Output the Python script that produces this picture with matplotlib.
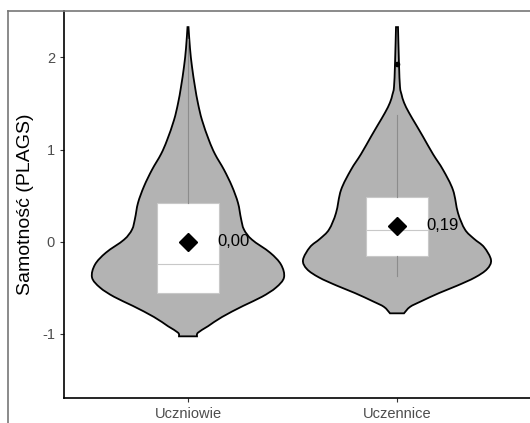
import matplotlib
matplotlib.use("Agg")
import matplotlib.pyplot as plt
from matplotlib.lines import Line2D
from matplotlib.path import Path
from matplotlib.patches import PathPatch
import numpy as np

plt.rcParams["font.family"] = ["Liberation Sans", "DejaVu Sans"]

# categories and summary values
groups = ["Uczniowie", "Uczennice"]
mean_vals = [0.00, 0.17]
mean_labels = ["0,00", "0,19"]

# violin outlines: value and half-width (in pixels of the original, 209 px per category)
left_y = [2.33, 2.10, 1.90, 1.68, 1.50, 1.32, 1.10, 0.95, 0.78, 0.60, 0.42, 0.25,
          0.13, 0.02, -0.12, -0.25, -0.39, -0.50, -0.60, -0.70, -0.82, -0.92, -0.99, -1.03]
left_w = [0.5, 2, 4, 7, 10, 14, 21, 27, 36, 44, 50, 53,
          56, 64, 82, 93, 96, 88, 74, 55, 34, 20, 10, 9]
right_y = [2.33, 1.93, 1.68, 1.60, 1.51, 1.40, 1.27, 1.14, 0.95, 0.78, 0.56, 0.31,
           0.13, 0.03, -0.06, -0.20, -0.30, -0.39, -0.48, -0.56, -0.65, -0.71, -0.78]
right_w = [1, 2, 3, 4.5, 7, 12, 19, 26, 36, 46, 56, 61,
           68, 77, 87, 94, 90, 78, 60, 42, 24, 13, 7]

# boxplot stats
q1 = [-0.56, -0.16]
med = [-0.24, 0.13]
q3 = [0.42, 0.48]
wlo = [-0.56, -0.37]
whi = [2.20, 1.38]
outliers = [[], [1.93]]

px_per_unit = 209.0


def smooth_path(xs, ys):
    # Catmull-Rom through the points, written as cubic Bezier segments
    pts = np.column_stack([xs, ys])
    verts = [pts[0]]
    codes = [Path.MOVETO]
    n = len(pts)
    for k in range(n - 1):
        p0 = pts[max(k - 1, 0)]
        p1 = pts[k]
        p2 = pts[k + 1]
        p3 = pts[min(k + 2, n - 1)]
        c1 = p1 + (p2 - p0) / 6.0
        c2 = p2 - (p3 - p1) / 6.0
        verts += [c1, c2, p2]
        codes += [Path.CURVE4] * 3
    return verts, codes


fig = plt.figure(figsize=(5.3, 4.23), dpi=100)
ax = fig.add_axes([64 / 530, 25 / 423, 1 - 64 / 530, (398 - 11) / 423])

profiles = [(left_y, left_w), (right_y, right_w)]
for i, (ys, ws) in enumerate(profiles):
    pos = i + 1
    hw = np.array(ws) / px_per_unit
    ys = np.array(ys)
    # right side top->bottom, then left side bottom->top
    v1, c1 = smooth_path(pos + hw, ys)
    v2, c2 = smooth_path((pos - hw)[::-1], ys[::-1])
    verts = v1 + v2 + [v1[0]]
    codes = c1 + [Path.LINETO] + c2[1:] + [Path.CLOSEPOLY]
    ax.add_patch(PathPatch(Path(verts, codes), facecolor="#b3b3b3",
                           edgecolor="black", linewidth=1.3, zorder=1))

stats = []
for i in range(len(groups)):
    stats.append(dict(med=med[i], q1=q1[i], q3=q3[i], whislo=wlo[i], whishi=whi[i],
                      fliers=outliers[i], label=groups[i]))
ax.bxp(stats, positions=[1, 2], widths=0.30, patch_artist=True, showcaps=False,
       boxprops=dict(facecolor="white", edgecolor="#c8c8c8", linewidth=0.8),
       medianprops=dict(color="#c8c8c8", linewidth=0.8),
       whiskerprops=dict(color="#8c8c8c", linewidth=0.8),
       flierprops=dict(marker="o", markersize=3, markerfacecolor="black",
                       markeredgecolor="black"),
       zorder=2)

ax.plot([1, 2], mean_vals, linestyle="none", marker="D", markersize=9,
        color="black", zorder=3)
for i, lab in enumerate(mean_labels):
    ax.text(i + 1 + 0.14, mean_vals[i], lab, fontsize=12, va="center", ha="left",
            color="black", zorder=4)

ax.set_xlim(1 - 124 / px_per_unit, 2 + 133 / px_per_unit)
ax.set_ylim(-1.70, 2.505)
ax.set_xticks([1, 2])
ax.set_xticklabels(groups)
ax.set_yticks([-1, 0, 1, 2])
ax.set_yticklabels(["-1", "0", "1", "2"])
ax.set_ylabel("Samotność (PLAGS)", fontsize=14, color="black", labelpad=6)
ax.tick_params(axis="both", labelsize=10.5, colors="#333333", labelcolor="#4d4d4d",
               length=3, width=0.8)
for s in ["top", "right"]:
    ax.spines[s].set_visible(False)
for s in ["left", "bottom"]:
    ax.spines[s].set_linewidth(1.2)
    ax.spines[s].set_color("black")

# outer frame (top and left edges)
fig.add_artist(Line2D([8 / 530, 1], [1 - 11 / 423, 1 - 11 / 423], color="#777777", lw=1.2))
fig.add_artist(Line2D([8 / 530, 8 / 530], [0, 1 - 11 / 423], color="#777777", lw=1.2))

fig.savefig("out.png", dpi=100)
